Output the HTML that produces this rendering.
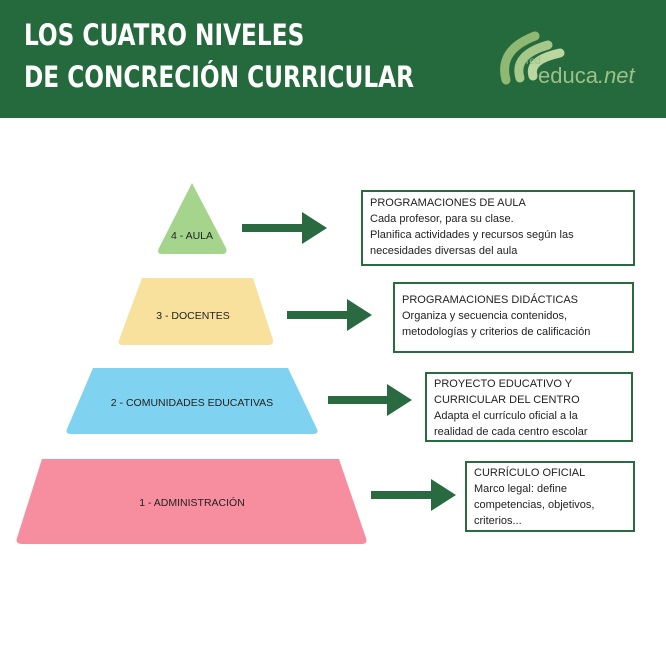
<!DOCTYPE html><html><head><style>
body{margin:0;width:666px;height:666px;background:#fff;position:relative;overflow:hidden;font-family:"Liberation Sans",sans-serif}
.hd{position:absolute;left:0;top:0;width:666px;height:118px;background:#256a3d}
.t{position:absolute;left:24px;color:#fff;font-size:29px;font-weight:bold;font-family:"DejaVu Sans Condensed","Liberation Sans Narrow",sans-serif;letter-spacing:0;transform:scaleX(0.89);transform-origin:left top;white-space:nowrap}
.box{position:absolute;border:2px solid #2a6a40;font-size:11px;line-height:16px;color:#222;padding:4px 7px;box-sizing:border-box}
svg{position:absolute;left:0;top:0}
</style></head><body>
<div class="hd"></div>
<div class="t" style="top:18px">LOS CUATRO NIVELES</div>
<div class="t" style="top:60px">DE CONCRECIÓN CURRICULAR</div>
<svg width="666" height="666">
<g fill="none" stroke-linecap="round" stroke-width="9">
<path d="M506 80 Q498 50 535 36" stroke="#8fb873"/>
<path d="M520 78 Q513 55 548 45" stroke="#a6c88a"/>
<path d="M533 76 Q528 60 560 53" stroke="#bcd6a0"/>
</g>
<text x="538" y="83" fill="#9cc08a" font-size="22" font-family="Liberation Sans">educa<tspan font-style="italic">.net</tspan></text>
<text x="526" y="64" fill="#9cc08a" font-size="10">red</text>
<path d="M192 183 L226 248 Q228 254 222 254 L162 254 Q156 254 159 248 Z" fill="#a5d58d"/>
<path d="M142 278 L253 278 L273 340 Q274 345 268 345 L123 345 Q117 345 119 340 Z" fill="#f7e19c"/>
<path d="M93 368 L288 368 L317 429 Q319 434 313 434 L71 434 Q65 434 67 429 Z" fill="#80d3f0"/>
<path d="M42 459 L339 459 L366 538 Q368 544 362 544 L22 544 Q15 544 17 538 Z" fill="#f78ea0"/>
<g fill="#2a6a40">
<path d="M242 224 h60 v-12 l25 16 l-25 16 v-12 h-60z"/>
<path d="M287 311 h60 v-12 l25 16 l-25 16 v-12 h-60z"/>
<path d="M328 396 h59 v-12 l25 16 l-25 16 v-12 h-59z"/>
<path d="M371 491 h60 v-12 l25 16 l-25 16 v-12 h-60z"/>
</g>
<g font-size="10.5" fill="#222" text-anchor="middle">
<text x="192" y="239">4 - AULA</text>
<text x="193" y="319">3 - DOCENTES</text>
<text x="192" y="406">2 - COMUNIDADES EDUCATIVAS</text>
<text x="192" y="506">1 - ADMINISTRACIÓN</text>
</g>
</svg>
<div class="box" style="left:361px;top:190px;width:274px;height:76px;padding-top:3px">PROGRAMACIONES DE AULA<br>Cada profesor, para su clase.<br>Planifica actividades y recursos según las<br>necesidades diversas del aula</div>
<div class="box" style="left:393px;top:282px;width:241px;height:71px;padding-top:8px">PROGRAMACIONES DIDÁCTICAS<br>Organiza y secuencia contenidos,<br>metodologías y criterios de calificación</div>
<div class="box" style="left:425px;top:372px;width:208px;height:70px;padding-top:2px">PROYECTO EDUCATIVO Y<br>CURRICULAR DEL CENTRO<br>Adapta el currículo oficial a la<br>realidad de cada centro escolar</div>
<div class="box" style="left:465px;top:461px;width:170px;height:71px;padding-top:2px">CURRÍCULO OFICIAL<br>Marco legal: define<br>competencias, objetivos,<br>criterios...</div>
</body></html>
